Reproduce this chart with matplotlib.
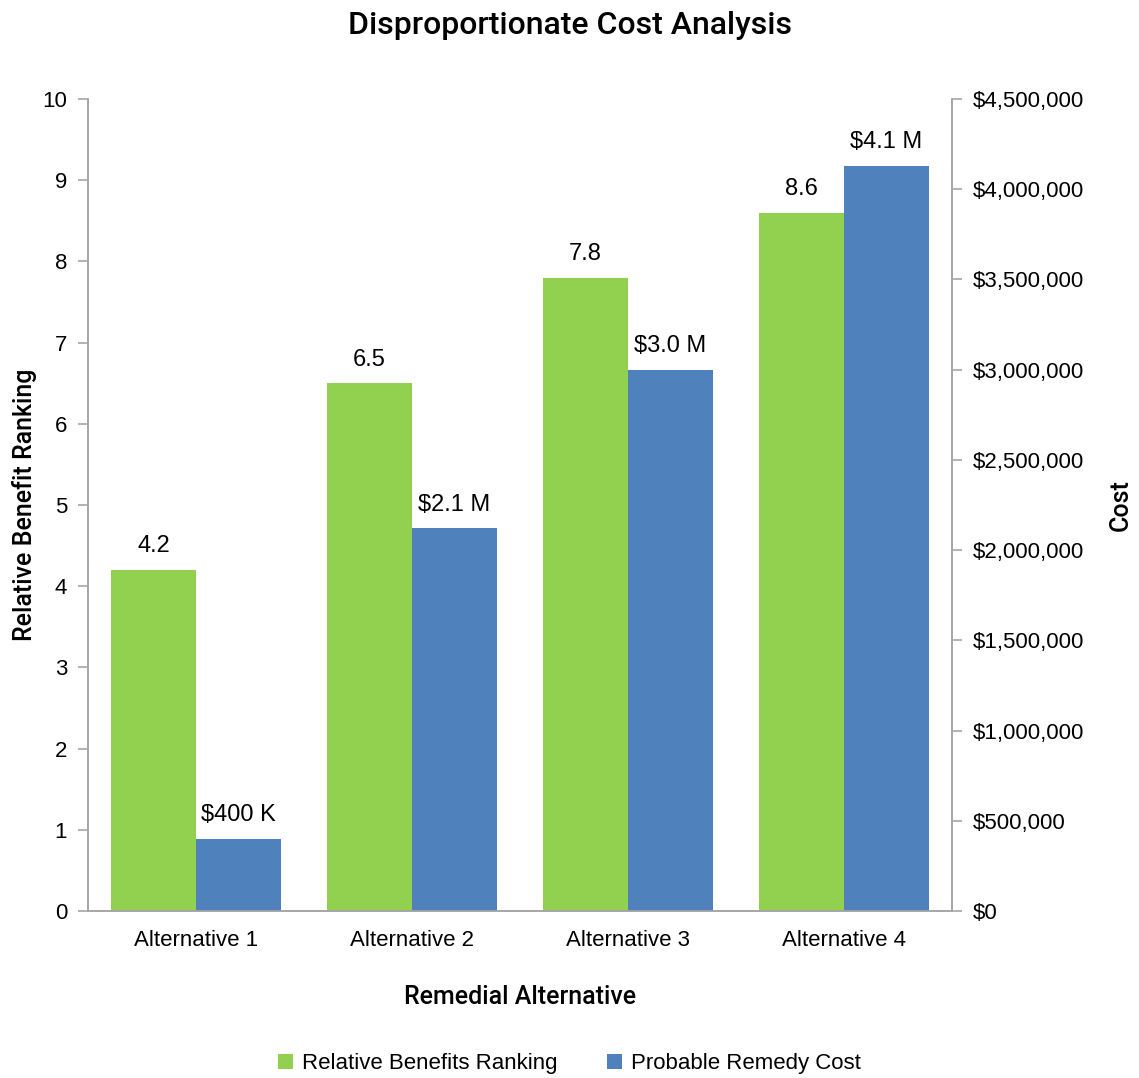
import numpy as np
import matplotlib
matplotlib.use("Agg")
import matplotlib.pyplot as plt
from matplotlib.ticker import FuncFormatter

plt.rcParams["font.family"] = ["Liberation Sans", "DejaVu Sans"]

# data
categories = ["Alternative 1", "Alternative 2", "Alternative 3", "Alternative 4"]
benefit_rank = [4.2, 6.5, 7.8, 8.6]
remedy_cost = [400000, 2120000, 3000000, 4130000]
cost_labels = ["$400 K", "$2.1 M", "$3.0 M", "$4.1 M"]

green = "#92D050"
blue = "#4F81BD"
grey = "#A6A6A6"
head = dict(family=["Roboto", "DejaVu Sans"], fontweight="medium")

fig = plt.figure(figsize=(11.39, 10.78), dpi=100)
ax1 = fig.add_axes([0.0773, 0.1549, 0.7585, 0.7533])
ax2 = ax1.twinx()

x = np.arange(len(categories))
w = 0.394

b1 = ax1.bar(x - w / 2, benefit_rank, w, color=green, label="Relative Benefits Ranking")
b2 = ax2.bar(x + w / 2, remedy_cost, w, color=blue, label="Probable Remedy Cost")

ax1.set_xlim(-0.5, len(categories) - 0.5)
ax1.set_ylim(0, 10)
ax1.set_yticks(range(0, 11))
ax2.set_ylim(0, 4500000)
ax2.set_yticks(np.arange(0, 4500001, 500000))
ax2.yaxis.set_major_formatter(FuncFormatter(lambda v, p: "${:,.0f}".format(v)))

# value labels
for xi, v in zip(x, benefit_rank):
    ax1.annotate(f"{v}", (xi - w / 2, v), xytext=(0, 9), textcoords="offset points",
                 ha="center", va="bottom", fontsize=17)
for xi, v, lab in zip(x, remedy_cost, cost_labels):
    ax2.annotate(lab, (xi + w / 2, v), xytext=(0, 9), textcoords="offset points",
                 ha="center", va="bottom", fontsize=17)

ax1.set_xticks(x)
ax1.set_xticklabels(categories, fontsize=16)
ax1.tick_params(axis="x", length=0, pad=14)
for ax in (ax1, ax2):
    ax.tick_params(axis="y", labelsize=16, color=grey, length=7, width=1.2, pad=8)
    for s in ax.spines.values():
        s.set_color(grey)
        s.set_linewidth(1.2)
    ax.spines["top"].set_visible(False)

ax1.set_ylabel("Relative Benefit Ranking", fontsize=18, labelpad=4, **head)
ax2.set_ylabel("Cost", fontsize=18, labelpad=18, **head)
ax1.set_xlabel("Remedial Alternative", fontsize=18, labelpad=24, **head)
fig.suptitle("Disproportionate Cost Analysis", fontsize=23, y=0.99, **head)

fig.legend(handles=[b1, b2], loc="lower center", bbox_to_anchor=(0.5, -0.015), ncol=2,
           frameon=False, fontsize=16, handlelength=0.7, handleheight=0.7,
           columnspacing=2.2, handletextpad=0.4)

fig.savefig("out.png", dpi=100)
